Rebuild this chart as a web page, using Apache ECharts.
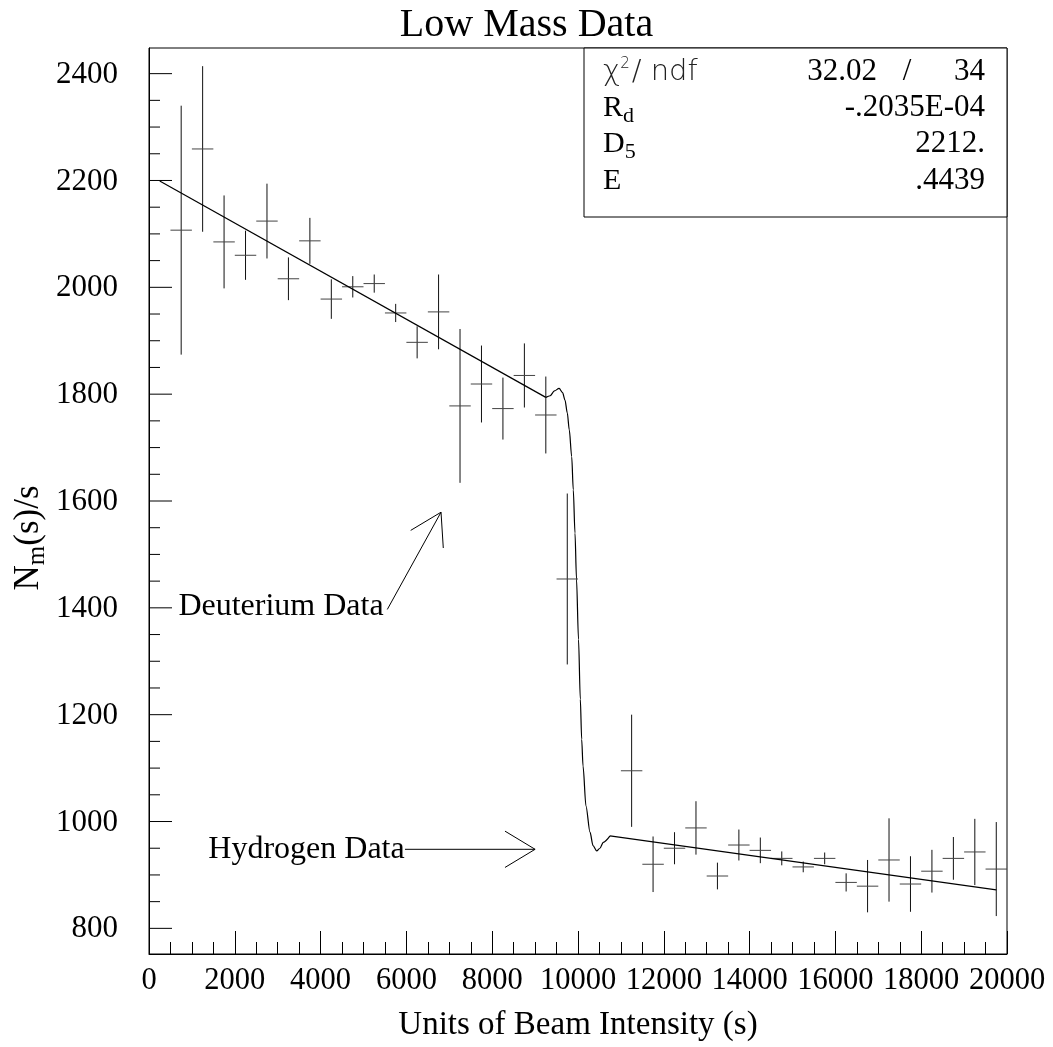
<!DOCTYPE html>
<html><head><meta charset="utf-8">
<script src="https://cdn.jsdelivr.net/npm/echarts@6.0.0/dist/echarts.min.js"></script>
<style>html,body{margin:0;padding:0;background:#fff}#c{width:1053px;height:1047px}</style>
</head><body><div id="c"></div>
<script>
// ---- data ----
const binCenters = [750,1250,1750,2250,2750,3250,3750,4250,4750,5250,5750,6250,6750,7250,7750,8250,8750,9250,9750,
  11250,11750,12250,12750,13250,13750,14250,14750,15250,15750,16250,16750,17250,17750,18250,18750,19250,19750];
const counts = [2107,2259,2085,2060,2124,2016,2087,1978,2001,2007,1952,1897,1954,1778,1819,1773,1835,1761,1454,
  1095,920,950,988,898,956,946,931,915,931,886,879,928,883,907,931,943,911];
const errors = [233,155,87,46,70,40,43,37,20,17,17,30,70,144,72,58,60,72,160,
  105,52,30,50,25,29,24,13,10,11,17,49,78,52,40,40,62,88];
const binHalfWidth = 250;
// fit function: deuterium straight part, step region, hydrogen straight part
const fitDeutX = [250, 9250];
const fitDeutY = [2199, 1794];
const fitStepX = [9250,9350,9450,9560,9640,9697,9750,9797,9853,9890,9930,9965,10012,10054,10086,10117,10186,10280,10350,10436,10510,10590,10746];
const fitStepY = [1794,1797,1806,1811,1803,1789,1765,1733,1683,1621,1540,1454,1341,1229,1154,1104,1029,980,955,945,950,961,973];
const fitHydX = [10746, 19750];
const fitHydY = [973, 872];
const yMajorTicks = [800,1000,1200,1400,1600,1800,2000,2200,2400];
const yMinorTicks = [850,900,950,1050,1100,1150,1250,1300,1350,1450,1500,1550,1650,1700,1750,1850,1900,1950,2050,2100,2150,2250,2300,2350];
const statsValues = ['-.2035E-04', '2212.', '.4439'];
const chiValues = ['32.02', '/', '34'];

// annotations (in data coordinates)
const annotations = [
  {text:'Deuterium Data', textEnd:[5470,1402], tail:[5555,1397], tip:[6807,1579], wingA:[6100,1545], wingB:[6860,1512]},
  {text:'Hydrogen Data', textEnd:[5960,948], tail:[5967,948], tip:[9000,948], wingA:[8298,982], wingB:[8298,914]}
];

const SERIF = '"Liberation Serif", "Times New Roman", serif';
const SANS = '"DejaVu Sans", "Liberation Sans", sans-serif';
const chart = echarts.init(document.getElementById('c'), null, {renderer:'canvas'});

const gridL = 149, gridT = 48, gridW = 858, gridH = 907;
const fitLine = {color:'#000', width:1.2};

const option = {
  animation: false,
  backgroundColor: '#fff',
  title: {text:'Low Mass Data', left:'center', top:0,
    textStyle:{fontFamily:SERIF, fontSize:40, fontWeight:'normal', color:'#000'}},
  grid: {left:gridL, top:gridT, width:gridW, height:gridH, show:true, borderColor:'#000', borderWidth:1, backgroundColor:'transparent'},
  xAxis: {type:'value', min:0, max:20000, interval:2000,
    axisLine:{show:true, lineStyle:{color:'#000', width:1}},
    axisTick:{show:true, inside:true, length:23, lineStyle:{color:'#000', width:1}},
    minorTick:{show:true, splitNumber:4, length:12, lineStyle:{color:'#000', width:1}},
    splitLine:{show:false},
    axisLabel:{fontFamily:SERIF, fontSize:30.5, color:'#000', margin:11, formatter: v => String(v)},
    name:'Units of Beam Intensity (s)', nameLocation:'middle', nameGap:55,
    nameTextStyle:{fontFamily:SERIF, fontSize:33, color:'#000'}
  },
  yAxis: {type:'value', min:752, max:2448,
    axisLine:{show:true, lineStyle:{color:'#000', width:1}},
    axisTick:{show:false}, axisLabel:{show:false}, splitLine:{show:false}},
  graphic: [
    {type:'text', x:29, y:538, rotation:Math.PI/2, z:10,
      style:{rich:{n:{fontFamily:SERIF, fontSize:35, fill:'#000'}, s:{fontFamily:SERIF, fontSize:25, fill:'#000', padding:[16,0,0,0]}},
        text:'{n|N}{s|m}{n|(s)/s}', align:'center', verticalAlign:'middle', fill:'#000'}},
    {type:'rect', shape:{x:584, y:48, width:423, height:169}, style:{fill:'#fff', stroke:'#000', lineWidth:1}, z:20},
    {type:'text', x:603, y:72, z:21, style:{text:'{c|χ}{sup|2}{c|/ ndf}', verticalAlign:'middle',
      rich:{c:{fontFamily:SANS, fontWeight:200, fontSize:29, fill:'#222'},
            sup:{fontFamily:SANS, fontWeight:200, fontSize:15, fill:'#222', padding:[0,2,16,0]}}}},
    {type:'text', x:603, y:108, z:21, style:{text:'{c|R}{s|d}', verticalAlign:'middle',
      rich:{c:{fontFamily:SERIF, fontSize:30, fill:'#000'}, s:{fontFamily:SERIF, fontSize:22, fill:'#000', padding:[17,0,0,0]}}}},
    {type:'text', x:603, y:144, z:21, style:{text:'{c|D}{s|5}', verticalAlign:'middle',
      rich:{c:{fontFamily:SERIF, fontSize:30, fill:'#000'}, s:{fontFamily:SERIF, fontSize:22, fill:'#000', padding:[17,0,0,0]}}}},
    {type:'text', x:603, y:181, z:21, style:{text:'E', verticalAlign:'middle', fontFamily:SERIF, fontSize:30, fill:'#000'}},
    {type:'text', x:877, y:72, z:21, style:{text:chiValues[0], align:'right', verticalAlign:'middle', fontFamily:SERIF, fontSize:31, fill:'#000'}},
    {type:'text', x:907, y:72, z:21, style:{text:chiValues[1], align:'center', verticalAlign:'middle', fontFamily:SERIF, fontSize:31, fill:'#000'}},
    {type:'text', x:985, y:72, z:21, style:{text:chiValues[2], align:'right', verticalAlign:'middle', fontFamily:SERIF, fontSize:31, fill:'#000'}},
    {type:'text', x:985, y:108, z:21, style:{text:statsValues[0], align:'right', verticalAlign:'middle', fontFamily:SERIF, fontSize:31, fill:'#000'}},
    {type:'text', x:985, y:144, z:21, style:{text:statsValues[1], align:'right', verticalAlign:'middle', fontFamily:SERIF, fontSize:31, fill:'#000'}},
    {type:'text', x:985, y:181, z:21, style:{text:statsValues[2], align:'right', verticalAlign:'middle', fontFamily:SERIF, fontSize:31, fill:'#000'}}
  ],
  series: [
    { // y axis ticks and labels
      type:'custom', coordinateSystem:'cartesian2d', silent:true, clip:false,
      data: yMajorTicks.map(v => [0, v, 1]).concat(yMinorTicks.map(v => [0, v, 0])),
      encode:{x:0, y:1},
      renderItem: function(params, api){
        const v = api.value(1), major = api.value(2) === 1;
        const p = api.coord([0, v]);
        const children = [{type:'line', shape:{x1:p[0], y1:p[1], x2:p[0] + (major ? 23 : 11), y2:p[1]},
          style:{stroke:'#000', lineWidth:1}}];
        if (major) children.push({type:'text', style:{text:String(v), x:p[0]-31, y:p[1]+1, align:'right', verticalAlign:'middle',
          fontFamily:SERIF, fontSize:31, fill:'#000'}});
        return {type:'group', children};
      }
    },
    { // error-bar crosses
      type:'custom', coordinateSystem:'cartesian2d', silent:true,
      data: binCenters.map((x, i) => [x, counts[i], errors[i]]),
      encode:{x:0, y:1},
      renderItem: function(params, api){
        const x = api.value(0), y = api.value(1), e = api.value(2);
        const t = api.coord([x, y + e]), b = api.coord([x, y - e]);
        const l = api.coord([x - binHalfWidth, y]), r = api.coord([x + binHalfWidth, y]);
        return {type:'group', children:[
          {type:'line', shape:{x1:t[0], y1:t[1], x2:b[0], y2:b[1]}, style:{stroke:'#111', lineWidth:1}},
          {type:'line', shape:{x1:l[0], y1:l[1], x2:r[0], y2:r[1]}, style:{stroke:'#444', lineWidth:1}}
        ]};
      }
    },
    {type:'line', data: fitDeutX.map((x, i) => [x, fitDeutY[i]]), showSymbol:false, symbol:'none', silent:true, lineStyle:fitLine},
    {type:'line', data: fitStepX.map((x, i) => [x, fitStepY[i]]), showSymbol:false, symbol:'none', silent:true,
      smooth:0.3, smoothMonotone:'x', lineStyle:fitLine},
    {type:'line', data: fitHydX.map((x, i) => [x, fitHydY[i]]), showSymbol:false, symbol:'none', silent:true, lineStyle:fitLine},
    { // annotations
      type:'custom', coordinateSystem:'cartesian2d', silent:true, clip:false,
      data: annotations.map((a, i) => [a.tip[0], a.tip[1], i]),
      encode:{x:0, y:1},
      renderItem: function(params, api){
        const a = annotations[api.value(2)];
        const te = api.coord(a.textEnd), tl = api.coord(a.tail), tp = api.coord(a.tip);
        const wa = api.coord(a.wingA), wb = api.coord(a.wingB);
        const st = {stroke:'#000', lineWidth:1};
        return {type:'group', children:[
          {type:'text', style:{text:a.text, x:te[0], y:te[1], align:'right', verticalAlign:'middle', fontFamily:SERIF, fontSize:32, fill:'#000'}},
          {type:'line', shape:{x1:tl[0], y1:tl[1], x2:tp[0], y2:tp[1]}, style:st},
          {type:'polyline', shape:{points:[wa, tp, wb]}, style:{stroke:'#000', lineWidth:1, fill:null}}
        ]};
      }
    }
  ]
};
chart.setOption(option);
</script></body></html>
